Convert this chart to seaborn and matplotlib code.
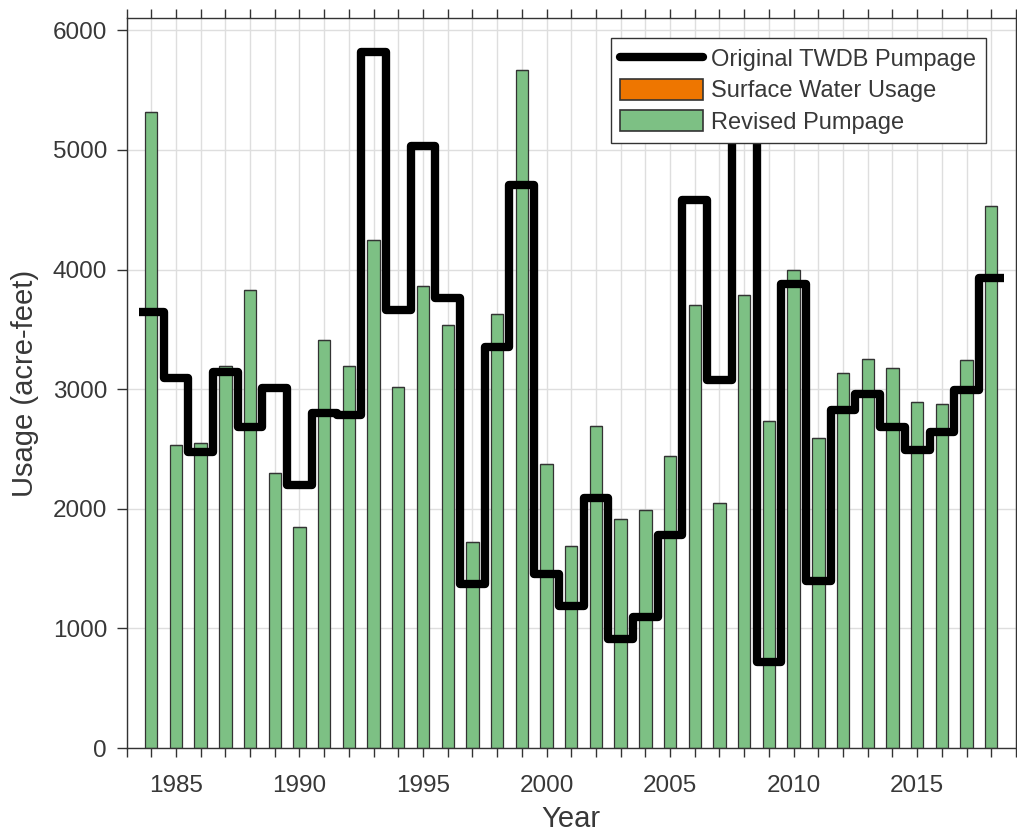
import matplotlib
matplotlib.use("Agg")
import matplotlib.pyplot as plt
import seaborn as sns
from matplotlib.lines import Line2D
from matplotlib.patches import Patch
from matplotlib.ticker import MultipleLocator, FuncFormatter

# Annual water usage, acre-feet
years = list(range(1984, 2019))
revised_pumpage = [5320, 2530, 2550, 3195, 3830, 2300, 1850, 3410, 3195, 4245,
                   3015, 3865, 3540, 1720, 3630, 5665, 2375, 1685, 2695, 1915,
                   1990, 2445, 3700, 2045, 3790, 2735, 3995, 2590, 3135, 3250,
                   3180, 2890, 2875, 3245, 4535]
surface_water = [0] * len(years)
original_twdb = [3645, 3090, 2475, 3145, 2680, 3010, 2200, 2800, 2785, 5815,
                 3665, 5035, 3760, 1370, 3355, 4705, 1455, 1190, 2090, 910,
                 1095, 1780, 4585, 3080, 5500, 720, 3875, 1395, 2825, 2960,
                 2680, 2490, 2645, 2995, 3930]

GREEN = "#7dc084"
ORANGE = "#ee7600"
EDGE = "#333333"
TXT = "#383838"

sns.set_style("white")
plt.rcParams["font.family"] = ["Liberation Sans", "DejaVu Sans"]

fig = plt.figure(figsize=(10.17, 8.33), dpi=100)
ax = fig.add_axes([0.1244, 0.102, 0.8746, 0.876])

# stacked bars: revised pumpage with surface water on top
sns.barplot(x=years, y=revised_pumpage, native_scale=True, width=0.5,
            color=GREEN, saturation=1, edgecolor=EDGE, linewidth=0.9,
            errorbar=None, ax=ax, zorder=2)
ax.bar(years, surface_water, bottom=revised_pumpage, width=0.5,
       color=ORANGE, edgecolor=EDGE, linewidth=0.9, zorder=2)

# original pumpage as a step outline spanning each year
edges = [y - 0.5 for y in years] + [years[-1] + 0.5]
step_vals = original_twdb + [original_twdb[-1]]
sns.lineplot(x=edges, y=step_vals, drawstyle="steps-post", color="black",
             linewidth=6.0, sort=False, estimator=None, ax=ax, zorder=3,
             solid_joinstyle="round", solid_capstyle="butt")

ax.set_xlim(1983, 2019)
ax.set_ylim(0, 6100)
ax.xaxis.set_major_locator(MultipleLocator(1))
ax.xaxis.set_major_formatter(FuncFormatter(
    lambda v, p: str(int(round(v))) if int(round(v)) % 5 == 0 else ""))
ax.yaxis.set_major_locator(MultipleLocator(1000))
ax.yaxis.set_major_formatter(FuncFormatter(lambda v, p: f"{int(v)}"))

ax.set_axisbelow(True)
ax.grid(True, color="#dedede", linewidth=1.0)
for s in ax.spines.values():
    s.set_color(EDGE)
    s.set_linewidth(1.0)

ax.tick_params(axis="x", which="major", top=True, bottom=True, direction="out",
               length=6.5, width=1.0, color=EDGE, labelsize=17.5,
               labelcolor=TXT, pad=13)
ax.tick_params(axis="y", which="major", left=True, right=False, direction="out",
               length=7, width=1.0, color=EDGE, labelsize=17.5,
               labelcolor=TXT, pad=7)

ax.set_xlabel("Year", fontsize=21, color=TXT, labelpad=6)
ax.set_ylabel("Usage (acre-feet)", fontsize=21, color=TXT, labelpad=10)

handles = [
    Line2D([0], [0], color="black", linewidth=6.0),
    Patch(facecolor=ORANGE, edgecolor=EDGE, linewidth=1.2),
    Patch(facecolor=GREEN, edgecolor=EDGE, linewidth=1.2),
]
labels = ["Original TWDB Pumpage", "Surface Water Usage", "Revised Pumpage"]
leg = ax.legend(handles, labels, loc="upper right",
                bbox_to_anchor=(0.966, 0.973), borderaxespad=0,
                fontsize=17, frameon=True, fancybox=False, framealpha=1,
                edgecolor=EDGE, handlelength=3.5, handleheight=1.0,
                handletextpad=0.35, labelspacing=0.32, borderpad=0.4)
leg.get_frame().set_linewidth(1.0)
for t in leg.get_texts():
    t.set_color(TXT)
leg.set_zorder(10)

fig.savefig("out.png", dpi=100)
